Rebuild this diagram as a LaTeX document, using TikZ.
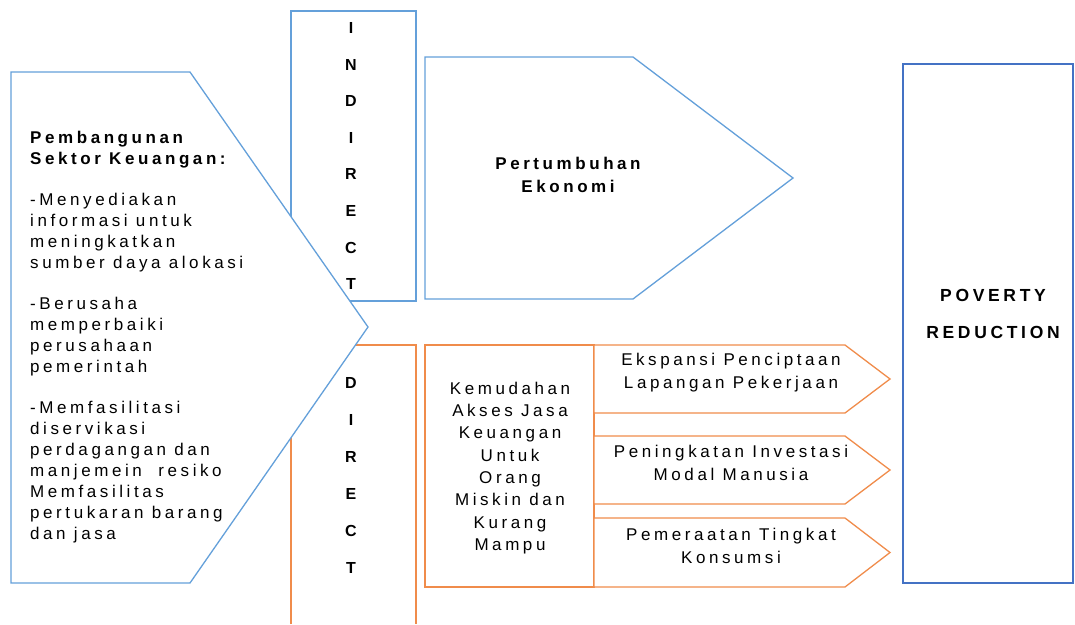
\documentclass[tikz,border=0pt]{standalone}
\usepackage{fontspec}
\setmainfont{Liberation Sans}[LetterSpace=21]
\usetikzlibrary{positioning}
\definecolor{lineblue}{RGB}{100,160,218}
\definecolor{lineorange}{RGB}{240,140,75}
\definecolor{darkblue}{RGB}{68,114,196}
\tikzset{
    bluebox/.style={draw=lineblue, line width=1.3pt, fill=white},
    orangebox/.style={draw=lineorange, line width=1.3pt, fill=white},
    txt/.style={font=\fontsize{17}{21}\selectfont, inner sep=0pt},
    vletter/.style={font=\bfseries\fontsize{16}{18}\selectfont, inner sep=0pt}
}

\begin{document}
\begin{tikzpicture}[x=1pt, y=-1pt]
    \useasboundingbox (0,0) rectangle (1075,624);
    % columns
    \draw[bluebox] (291,11) rectangle (416,301);
    \draw[orangebox] (291,624) -- (291,345) -- (416,345) -- (416,624);
    % left arrow, on top of the columns
    \draw[bluebox] (11,72) -- (190,72) -- (368,327) -- (190,583) -- (11,583) -- cycle;
    \node[txt, anchor=north west, align=left] (sektor) at (30,131) {%
        \textbf{Pembangunan}\\
        \textbf{Sektor Keuangan:}\\[20pt]
        -Menyediakan\\
        informasi untuk\\
        meningkatkan\\
        sumber daya alokasi\\[20pt]
        -Berusaha\\
        memperbaiki\\
        perusahaan\\
        pemerintah\\[20pt]
        -Memfasilitasi\\
        diservikasi\\
        perdagangan dan\\
        manjemein\ \ resiko\\
        Memfasilitas\\
        pertukaran barang\\
        dan jasa};
    \foreach \ch [count=\k] in {I,N,D,I,R,E,C,T}
        \node[vletter] (ind\k) at (351, {28+36.6*(\k-1)}) {\ch};
    \foreach \ch [count=\k] in {D,I,R,E,C,T}
        \node[vletter] (dir\k) at (351, {383+37*(\k-1)}) {\ch};
    % indirect path
    \draw[bluebox] (425,57) -- (633,57) -- (793,178) -- (633,299) -- (425,299) -- cycle;
    \node[txt, font=\bfseries\fontsize{17}{23}\selectfont, align=center] (tumbuh) at (568,175) {Pertumbuhan\\Ekonomi};
    % direct path
    \draw[orangebox] (425,345) rectangle (594,587);
    \node[txt, font=\fontsize{17}{22.3}\selectfont, align=center] (akses) at (510,468)
        {Kemudahan\\Akses Jasa\\Keuangan\\Untuk\\Orang\\Miskin dan\\Kurang\\Mampu};
    \foreach \t/\b in {345/413, 436/504, 518/587}
        \draw[orangebox] (594,\t) -- (845,\t) -- (890,{(\t+\b)/2}) -- (845,\b) -- (594,\b) -- cycle;
    \node[txt, font=\fontsize{17}{23}\selectfont, align=center] (kerja) at (731,372.5) {Ekspansi Penciptaan\\Lapangan Pekerjaan};
    \node[txt, font=\fontsize{17}{23}\selectfont, align=center] (modal) at (731,462.5) {Peningkatan Investasi\\Modal Manusia};
    \node[txt, font=\fontsize{17}{23}\selectfont, align=center] (konsumsi) at (731,545.5) {Pemeraatan Tingkat\\Konsumsi};
    % goal
    \draw[darkblue, line width=1.3pt] (903,64) rectangle (1073,583);
    \node[txt, font=\bfseries\fontsize{17.5}{37}\selectfont, align=center] (goal) at (993,313.5) {POVERTY\\REDUCTION};
\end{tikzpicture}
\end{document}
